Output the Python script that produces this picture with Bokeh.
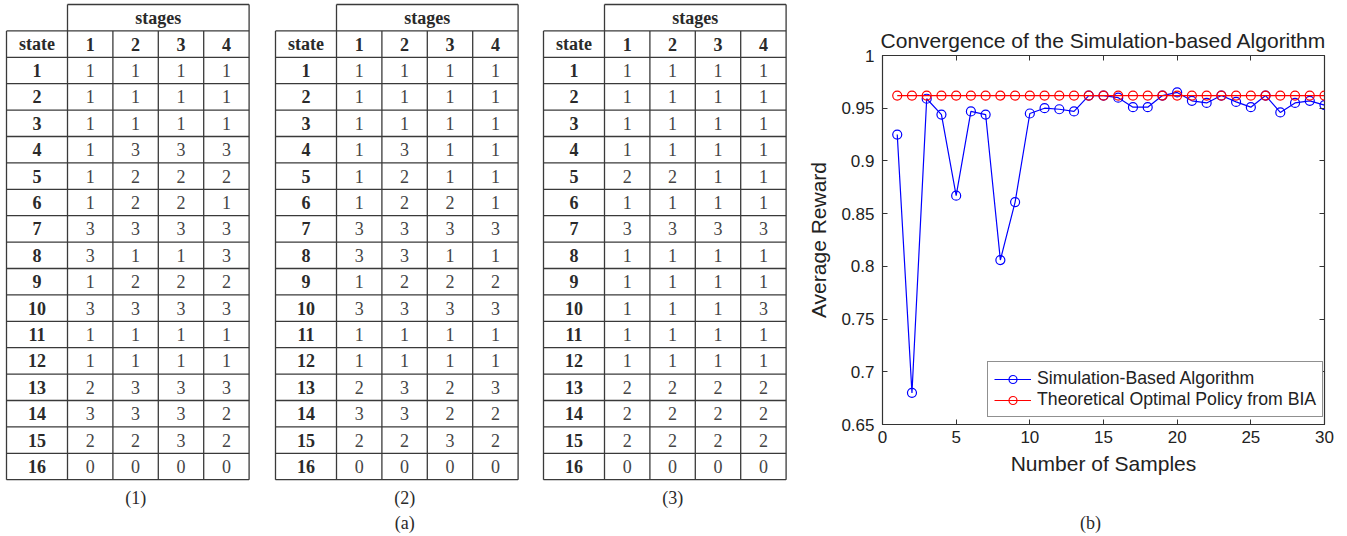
from bokeh.plotting import figure
from bokeh.layouts import row, column
from bokeh.models import (Range1d, FixedTicker, LinearAxis, CustomJSTickFormatter)
from bokeh.core.properties import value
from bokeh.embed import file_html
from bokeh.resources import INLINE

# ---------------- data ----------------
stages = ["1", "2", "3", "4"]
states = ["1", "2", "3", "4", "5", "6", "7", "8", "9", "10", "11", "12", "13", "14", "15", "16"]

policy_1 = [
    [1, 1, 1, 1], [1, 1, 1, 1], [1, 1, 1, 1], [1, 3, 3, 3],
    [1, 2, 2, 2], [1, 2, 2, 1], [3, 3, 3, 3], [3, 1, 1, 3],
    [1, 2, 2, 2], [3, 3, 3, 3], [1, 1, 1, 1], [1, 1, 1, 1],
    [2, 3, 3, 3], [3, 3, 3, 2], [2, 2, 3, 2], [0, 0, 0, 0],
]
policy_2 = [
    [1, 1, 1, 1], [1, 1, 1, 1], [1, 1, 1, 1], [1, 3, 1, 1],
    [1, 2, 1, 1], [1, 2, 2, 1], [3, 3, 3, 3], [3, 3, 1, 1],
    [1, 2, 2, 2], [3, 3, 3, 3], [1, 1, 1, 1], [1, 1, 1, 1],
    [2, 3, 2, 3], [3, 3, 2, 2], [2, 2, 3, 2], [0, 0, 0, 0],
]
policy_3 = [
    [1, 1, 1, 1], [1, 1, 1, 1], [1, 1, 1, 1], [1, 1, 1, 1],
    [2, 2, 1, 1], [1, 1, 1, 1], [3, 3, 3, 3], [1, 1, 1, 1],
    [1, 1, 1, 1], [1, 1, 1, 3], [1, 1, 1, 1], [1, 1, 1, 1],
    [2, 2, 2, 2], [2, 2, 2, 2], [2, 2, 2, 2], [0, 0, 0, 0],
]
table_captions = ["(1)", "(2)", "(3)"]
caption_a = "(a)"
caption_b = "(b)"

samples = [1, 2, 3, 4, 5, 6, 7, 8, 9, 10, 11, 12, 13, 14, 15,
           16, 17, 18, 19, 20, 21, 22, 23, 24, 25, 26, 27, 28, 29, 30]
sim_reward = [0.925, 0.680, 0.959, 0.944, 0.867, 0.947, 0.944, 0.806, 0.861, 0.945,
              0.950, 0.949, 0.947, 0.962, 0.962, 0.960, 0.951, 0.951, 0.962, 0.965,
              0.957, 0.955, 0.962, 0.956, 0.951, 0.962, 0.946, 0.955, 0.957, 0.953]
bia_reward = [0.962, 0.962, 0.962, 0.962, 0.962, 0.962, 0.962, 0.962, 0.962, 0.962,
              0.962, 0.962, 0.962, 0.962, 0.962, 0.962, 0.962, 0.962, 0.962, 0.962,
              0.962, 0.962, 0.962, 0.962, 0.962, 0.962, 0.962, 0.962, 0.962, 0.962]
x_ticks = [0, 5, 10, 15, 20, 25, 30]
y_ticks = [0.65, 0.7, 0.75, 0.8, 0.85, 0.9, 0.95, 1.0]

SERIF = value("Liberation Serif")


def blank_fig(w, h):
    f = figure(width=w, height=h, x_range=Range1d(0, w), y_range=Range1d(h, 0),
               output_backend="svg", toolbar_location=None,
               x_axis_location=None, y_axis_location=None,
               min_border=0, min_border_left=0, min_border_right=0,
               min_border_top=0, min_border_bottom=0)
    f.grid.visible = False
    f.outline_line_color = None
    f.background_fill_color = "white"
    f.border_fill_color = "white"
    f.frame_align = False
    return f


# ---------------- tables figure ----------------
tp = blank_fig(800, 536)


def draw_table(p, left, policy, caption, state_w=61, col_w=45.4, row_h=26.4, top=4):
    n_rows = len(states)
    n_cols = len(stages)
    right = left + state_w + col_w * n_cols
    bottom = top + row_h * (n_rows + 2)
    x0, y0, x1, y1 = [], [], [], []
    x0.append(left + state_w); y0.append(top); x1.append(right); y1.append(top)
    for k in range(1, n_rows + 3):
        yy = top + k * row_h
        x0.append(left); y0.append(yy); x1.append(right); y1.append(yy)
    x0.append(left); y0.append(top + row_h); x1.append(left); y1.append(bottom)
    x0.append(left + state_w); y0.append(top); x1.append(left + state_w); y1.append(bottom)
    for j in range(1, n_cols):
        xx = left + state_w + j * col_w
        x0.append(xx); y0.append(top + row_h); x1.append(xx); y1.append(bottom)
    x0.append(right); y0.append(top); x1.append(right); y1.append(bottom)
    p.segment(x0=x0, y0=y0, x1=x1, y1=y1, line_color="#3a3a3a", line_width=1.3)

    # bold header / state labels
    bx, by, bt = [], [], []
    bx.append(left + state_w + col_w * n_cols / 2); by.append(top + row_h * 0.5); bt.append("stages")
    bx.append(left + state_w / 2); by.append(top + row_h * 1.5); bt.append("state")
    for j, s in enumerate(stages):
        bx.append(left + state_w + (j + 0.5) * col_w); by.append(top + row_h * 1.5); bt.append(s)
    for i, s in enumerate(states):
        bx.append(left + state_w / 2); by.append(top + row_h * (i + 2.5)); bt.append(s)
    p.text(x=bx, y=by, text=bt, text_font=SERIF, text_font_size="18px",
           text_font_style="bold", text_align="center", text_baseline="middle",
           text_color="#2a2a2a")

    # cell values
    vx, vy, vt = [], [], []
    for i, r in enumerate(policy):
        for j, v in enumerate(r):
            vx.append(left + state_w + (j + 0.5) * col_w)
            vy.append(top + row_h * (i + 2.5))
            vt.append(str(v))
    p.text(x=vx, y=vy, text=vt, text_font=SERIF, text_font_size="18px",
           text_align="center", text_baseline="middle", text_color="#444444")

    cx = (left + right) / 2 + 8
    p.text(x=[cx], y=[bottom + 18], text=[caption], text_font=SERIF, text_font_size="18px",
           text_align="center", text_baseline="middle", text_color="#2a2a2a")
    return cx, bottom


draw_table(tp, 6, policy_1, table_captions[0])
cx2, b2 = draw_table(tp, 275, policy_2, table_captions[1])
draw_table(tp, 543, policy_3, table_captions[2])
tp.text(x=[cx2], y=[b2 + 43], text=[caption_a], text_font=SERIF, text_font_size="18px",
        text_align="center", text_baseline="middle", text_color="#2a2a2a")

# ---------------- chart figure ----------------
SANS = "Liberation Sans"
cp = figure(width=547, height=505, x_range=Range1d(0, 30), y_range=Range1d(0.65, 1.0),
            output_backend="svg", toolbar_location=None,
            min_border_left=82, min_border_right=23, min_border_top=55, min_border_bottom=81)
cp.frame_align = False
cp.grid.visible = False
cp.outline_line_color = "#333333"
cp.outline_line_width = 1.2
cp.background_fill_color = "white"
cp.border_fill_color = "white"

cp.title.text = "Convergence of the Simulation-based Algorithm"
cp.title.align = "center"
cp.title.text_font = SANS
cp.title.text_font_size = "21px"
cp.title.text_font_style = "normal"
cp.title.text_color = "#222222"
cp.title.standoff = 8

for ax in (cp.xaxis[0], cp.yaxis[0]):
    ax.major_tick_in = 5
    ax.major_tick_out = 0
    ax.minor_tick_line_color = None
    ax.axis_line_color = "#333333"
    ax.major_tick_line_color = "#333333"
    ax.major_label_text_font = SANS
    ax.major_label_text_font_size = "17px"
    ax.major_label_text_color = "#222222"
    ax.axis_label_text_font = SANS
    ax.axis_label_text_font_size = "21px"
    ax.axis_label_text_font_style = "normal"
    ax.axis_label_text_color = "#222222"

cp.xaxis.ticker = FixedTicker(ticks=x_ticks)
cp.yaxis.ticker = FixedTicker(ticks=y_ticks)
cp.yaxis.formatter = CustomJSTickFormatter(code="return String(Number(tick.toFixed(2)));")
cp.xaxis.formatter = CustomJSTickFormatter(code="return String(Number(tick.toFixed(0)));")
cp.xaxis.axis_label = "Number of Samples"
cp.yaxis.axis_label = "Average Reward"
cp.xaxis.major_label_standoff = 6
cp.xaxis.axis_label_standoff = 6
cp.yaxis.major_label_standoff = 8
cp.yaxis.axis_label_standoff = 8

blank = CustomJSTickFormatter(code="return '';")
top_ax = LinearAxis(ticker=FixedTicker(ticks=x_ticks), formatter=blank,
                    major_tick_in=5, major_tick_out=0, minor_tick_line_color=None,
                    axis_line_color=None, major_tick_line_color="#333333",
                    major_label_standoff=0)
right_ax = LinearAxis(ticker=FixedTicker(ticks=y_ticks), formatter=blank,
                      major_tick_in=5, major_tick_out=0, minor_tick_line_color=None,
                      axis_line_color=None, major_tick_line_color="#333333",
                      major_label_standoff=0)
cp.add_layout(top_ax, "above")
cp.add_layout(right_ax, "right")

sim_label = "Simulation-Based Algorithm"
bia_label = "Theoretical Optimal Policy from BIA"
cp.line(samples, sim_reward, line_color="#0000ff", line_width=1.2, legend_label=sim_label)
cp.scatter(samples, sim_reward, marker="circle", size=9, fill_color=None,
           line_color="#0000ff", line_width=1.2, legend_label=sim_label)
cp.line(samples, bia_reward, line_color="#ff0000", line_width=1.2, legend_label=bia_label)
cp.scatter(samples, bia_reward, marker="circle", size=9, fill_color=None,
           line_color="#ff0000", line_width=1.2, legend_label=bia_label)

lg = cp.legend[0]
lg.location = (105, 7)
lg.label_text_font = SANS
lg.label_text_font_size = "17.7px"
lg.label_text_color = "#222222"
lg.border_line_color = "#222222"
lg.border_line_width = 1.2
lg.background_fill_alpha = 1.0
lg.glyph_width = 37
lg.glyph_height = 20
lg.label_height = 20
lg.label_standoff = 6
lg.padding = 6
lg.spacing = 0
lg.margin = 0

# ---------------- caption under the chart ----------------
capf = blank_fig(547, 31)
capf.text(x=[290], y=[17], text=[caption_b], text_font=SERIF, text_font_size="18px",
          text_align="center", text_baseline="middle", text_color="#2a2a2a")

layout = row(tp, column(cp, capf, spacing=0), spacing=0)
open("out.html", "w").write(file_html(layout, INLINE))
